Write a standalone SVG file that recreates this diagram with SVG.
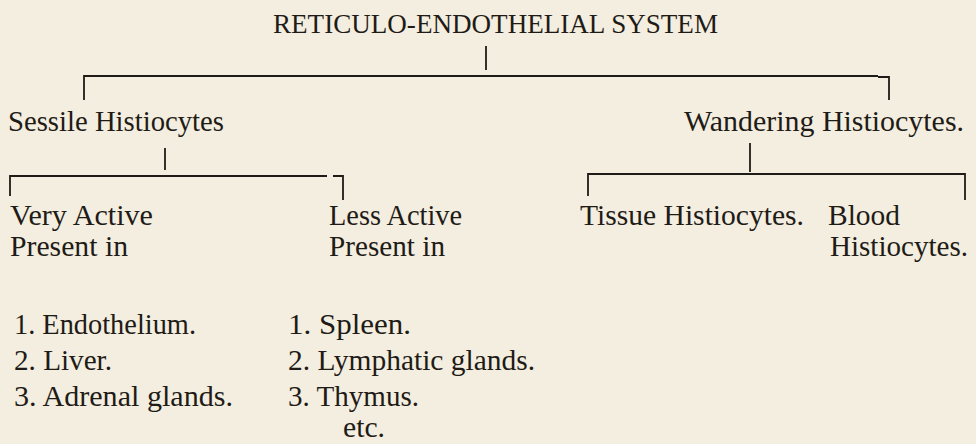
<svg xmlns="http://www.w3.org/2000/svg" width="976" height="444" viewBox="0 0 976 444">
<style>
text{font-family:"Liberation Serif","DejaVu Serif",serif;fill:#1f1b17;font-size:29px}
.c path{fill:none;stroke:#1f1b17;stroke-width:1.8}
</style>
<rect width="976" height="444" fill="#f3eedf"/>
<g id="root"><text x="273" y="33" textLength="445" lengthAdjust="spacingAndGlyphs" style="font-size:27.5px">RETICULO-ENDOTHELIAL SYSTEM</text></g>
<g id="sessile"><text x="8" y="131" textLength="216" lengthAdjust="spacingAndGlyphs">Sessile Histiocytes</text></g>
<g id="wandering"><text x="684" y="131" textLength="280" lengthAdjust="spacingAndGlyphs">Wandering Histiocytes.</text></g>
<g id="very-active"><text x="10" y="225" textLength="143" lengthAdjust="spacingAndGlyphs">Very Active</text><text x="10" y="256" textLength="118" lengthAdjust="spacingAndGlyphs">Present in</text></g>
<g id="less-active"><text x="329" y="225" textLength="133" lengthAdjust="spacingAndGlyphs">Less Active</text><text x="329" y="256" textLength="116" lengthAdjust="spacingAndGlyphs">Present in</text></g>
<g id="tissue"><text x="580" y="225" textLength="224" lengthAdjust="spacingAndGlyphs">Tissue Histiocytes.</text></g>
<g id="blood"><text x="828" y="225" textLength="72" lengthAdjust="spacingAndGlyphs">Blood</text><text x="830" y="256" textLength="138" lengthAdjust="spacingAndGlyphs">Histiocytes.</text></g>
<g id="list-very"><text x="14" y="334" textLength="182" lengthAdjust="spacingAndGlyphs">1. Endothelium.</text><text x="14" y="370" textLength="98" lengthAdjust="spacingAndGlyphs">2. Liver.</text><text x="14" y="406" textLength="219" lengthAdjust="spacingAndGlyphs">3. Adrenal glands.</text></g>
<g id="list-less"><text x="288" y="334" textLength="123" lengthAdjust="spacingAndGlyphs">1. Spleen.</text><text x="288" y="370" textLength="247" lengthAdjust="spacingAndGlyphs">2. Lymphatic glands.</text><text x="288" y="406" textLength="131" lengthAdjust="spacingAndGlyphs">3. Thymus.</text><text x="343" y="437" textLength="42" lengthAdjust="spacingAndGlyphs">etc.</text></g>
<g id="connectors" class="c">
<path d="M486 46V70"/>
<path d="M84 100V76H878"/>
<path d="M878 77H889V100"/>
<path d="M165 148V170"/>
<path d="M10 196V176H327"/>
<path d="M333 176H343V200"/>
<path d="M750 143V172"/>
<path d="M588 196V174H955"/>
<path d="M955 174H965V200"/>
</g>
</svg>
